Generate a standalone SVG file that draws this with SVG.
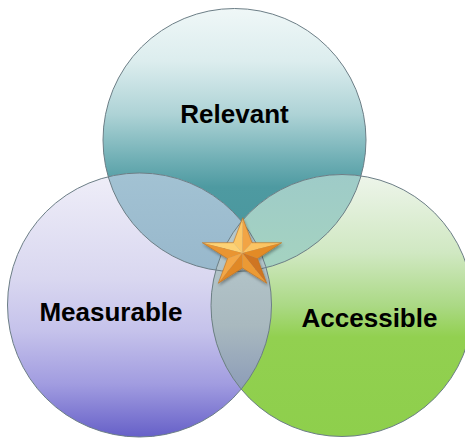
<svg xmlns="http://www.w3.org/2000/svg" width="465" height="439" viewBox="0 0 465 439">
<style>
.lbl{font-family:"Liberation Sans",Arial,sans-serif;font-weight:bold;font-size:26px;fill:#000;text-anchor:middle}
.edge{fill:none;stroke:#6c7e86;stroke-width:1}
.starline{stroke:#c0701c;stroke-width:0.6;stroke-linejoin:round}
</style>
<defs>
<linearGradient id="gTop" gradientUnits="userSpaceOnUse" x1="0" y1="9" x2="0" y2="271">
<stop offset="0" stop-color="#eff7f7"/>
<stop offset="0.2" stop-color="#dcedee"/>
<stop offset="0.4" stop-color="#aed3d6"/>
<stop offset="0.58" stop-color="#6eaeb4"/>
<stop offset="0.68" stop-color="#4e9aa1"/>
<stop offset="0.8" stop-color="#4b989f"/>
<stop offset="1" stop-color="#5ea6ac"/>
</linearGradient>
<linearGradient id="gLeft" gradientUnits="userSpaceOnUse" x1="0" y1="173" x2="0" y2="437">
<stop offset="0" stop-color="#efeef8"/>
<stop offset="0.4" stop-color="#d9d7f0"/>
<stop offset="0.6" stop-color="#c5c2eb"/>
<stop offset="0.8" stop-color="#a19ce0"/>
<stop offset="1" stop-color="#6660c8"/>
</linearGradient>
<linearGradient id="gRight" gradientUnits="userSpaceOnUse" x1="0" y1="174" x2="0" y2="437">
<stop offset="0" stop-color="#eef5eb"/>
<stop offset="0.3" stop-color="#d0e8c2"/>
<stop offset="0.5" stop-color="#abd985"/>
<stop offset="0.62" stop-color="#92d050"/>
<stop offset="1" stop-color="#8ecf4c"/>
</linearGradient>
<linearGradient id="gTL" gradientUnits="userSpaceOnUse" x1="0" y1="173" x2="0" y2="271">
<stop offset="0" stop-color="#a2c2d3"/>
<stop offset="1" stop-color="#98b8cc"/>
</linearGradient>
<linearGradient id="gTR" gradientUnits="userSpaceOnUse" x1="0" y1="174" x2="0" y2="271">
<stop offset="0" stop-color="#9ecbc8"/>
<stop offset="1" stop-color="#a5d3c0"/>
</linearGradient>
<linearGradient id="gLR" gradientUnits="userSpaceOnUse" x1="0" y1="240" x2="0" y2="410">
<stop offset="0" stop-color="#b6c8cc"/>
<stop offset="0.5" stop-color="#a9b9bf"/>
<stop offset="1" stop-color="#8393b6"/>
</linearGradient>
<clipPath id="cTop"><circle cx="234.5" cy="140" r="131.5"/></clipPath>
<clipPath id="cLeft"><circle cx="139.5" cy="305" r="132"/></clipPath>
<clipPath id="cRight"><circle cx="342" cy="305.5" r="131"/></clipPath>
<filter id="sh" x="-30%" y="-30%" width="160%" height="160%">
<feDropShadow dx="1" dy="2" stdDeviation="1.5" flood-color="#000" flood-opacity="0.35"/>
</filter>
</defs>

<g id="node-relevant">
<circle cx="234.5" cy="140" r="131.5" fill="url(#gTop)"/>
</g>
<g id="node-measurable">
<circle cx="139.5" cy="305" r="132" fill="url(#gLeft)"/>
</g>
<g id="node-accessible">
<circle cx="342" cy="305.5" r="131" fill="url(#gRight)"/>
</g>

<g id="overlaps">
<g clip-path="url(#cTop)"><circle cx="139.5" cy="305" r="132" fill="url(#gTL)"/></g>
<g clip-path="url(#cTop)"><circle cx="342" cy="305.5" r="131" fill="url(#gTR)"/></g>
<g clip-path="url(#cLeft)"><circle cx="342" cy="305.5" r="131" fill="url(#gLR)"/></g>
</g>

<g id="connectors">
<circle class="edge" cx="234.5" cy="140" r="131.5"/>
<circle class="edge" cx="139.5" cy="305" r="132"/>
<circle class="edge" cx="342" cy="305.5" r="131"/>
</g>

<g id="labels">
<text class="lbl" x="234.5" y="123">Relevant</text>
<text class="lbl" x="111" y="321">Measurable</text>
<text class="lbl" x="369.5" y="327">Accessible</text>
</g>

<g id="star" filter="url(#sh)">
<polygon points="242.5,253 242.7,217.7 233.4,242.7" fill="#fbc868"/>
<polygon points="242.5,253 242.7,217.7 252,242.7" fill="#f2a445"/>
<polygon points="242.5,253 202.3,242.7 233.4,242.7" fill="#fdd274"/>
<polygon points="242.5,253 202.3,242.7 227.5,258.6" fill="#e99530"/>
<polygon points="242.5,253 281.7,242.7 252,242.7" fill="#fbc463"/>
<polygon points="242.5,253 281.7,242.7 257.5,258.6" fill="#e38b28"/>
<polygon points="242.5,253 218.3,283.3 227.5,258.6" fill="#f3a747"/>
<polygon points="242.5,253 218.3,283.3 242.5,268" fill="#e08828"/>
<polygon points="242.5,253 266.7,283.3 242.5,268" fill="#eb9a36"/>
<polygon points="242.5,253 266.7,283.3 257.5,258.6" fill="#cf7520"/>
<polygon class="starline" fill="none" points="242.7,217.7 252,242.7 281.7,242.7 257.5,258.6 266.7,283.3 242.5,268 218.3,283.3 227.5,258.6 202.3,242.7 233.4,242.7"/>
</g>
</svg>
